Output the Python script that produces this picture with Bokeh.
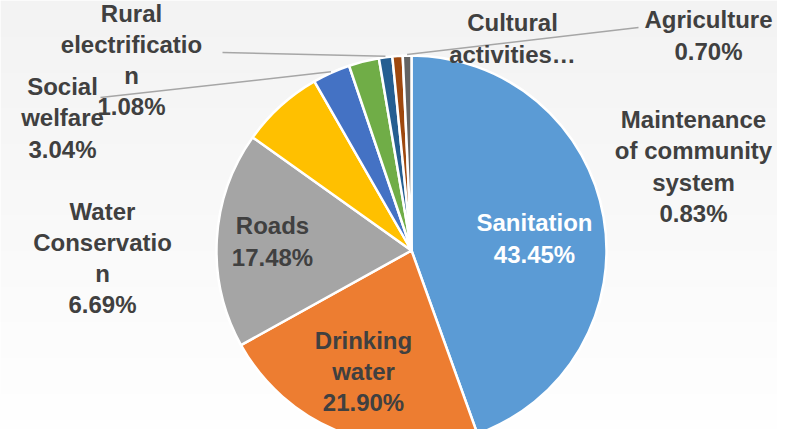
import numpy as np
import pandas as pd
from bokeh.plotting import figure
from bokeh.models import ColumnDataSource
from bokeh.core.properties import value
from bokeh.embed import file_html
from bokeh.resources import INLINE

# ---- data ----
categories = ["Sanitation", "Drinking water", "Roads", "Water Conservation",
              "Social welfare", "Cultural activities", "Rural electrification",
              "Maintenance of community system", "Agriculture"]
shares = [43.45, 21.90, 17.48, 6.69, 3.04, 2.45, 1.08, 0.83, 0.70]
label_names = ["Sanitation", "Drinking\nwater", "Roads", "Water\nConservatio\nn",
               "Social\nwelfare", "Cultural\nactivities\u2026", "Rural\nelectrificatio\nn",
               "Maintenance\nof community\nsystem", "Agriculture"]
show_pct = [True, True, True, True, True, False, True, True, True]
colors = ["#5B9BD5", "#ED7D31", "#A5A5A5", "#FFC000", "#4472C4",
          "#70AD47", "#255E91", "#9E480E", "#636363"]

# ---- layout (style) ----
W, H = 777, 429
CX, CY, R = 411, 179, 195
label_pos = [(534, 191), (363, 58), (272, 188), (102, 171.5), (62, 311.5),
             (512, 391), (131, 369.5), (693, 263), (708, 394)]
label_colors = ["white", "#404040", "#404040", "#404040", "#404040",
                "#404040", "#404040", "#404040", "#404040"]
leaders = {"Social welfare": (100, 332), "Rural electrification": (222, 377),
           "Agriculture": (638, 402)}

df = pd.DataFrame({"cat": categories, "v": shares, "color": colors})
total = df.v.sum()
cum_end = df.v.cumsum() / total
cum_start = cum_end - df.v / total
df["start"] = np.pi / 2 - 2 * np.pi * cum_start
df["end"] = np.pi / 2 - 2 * np.pi * cum_end
df["mid"] = (df.start + df.end) / 2
df["x"] = CX
df["y"] = CY

p = figure(width=W, height=H, x_range=(0, W), y_range=(0, H),
           output_backend="svg", toolbar_location=None, min_border=0,
           background_fill_color="white", border_fill_color="white")
p.axis.visible = False
p.grid.visible = False
p.outline_line_color = None

# background gradient
rows = H
g = np.linspace(255, 243, rows).astype(np.uint32)
img = np.empty((rows, 1), dtype=np.uint32)
img[:, 0] = (255 << 24) | (g << 16) | (g << 8) | g
p.image_rgba(image=[img], x=0, y=0, dw=W, dh=H)

p.wedge(x="x", y="y", radius=R, start_angle="start", end_angle="end",
        direction="clock", fill_color="color", line_color="white",
        line_width=2.5, source=ColumnDataSource(df))

# leader lines
for name, (lx, ly) in leaders.items():
    m = df.loc[df.cat == name, "mid"].iloc[0]
    ex = CX + (R + 1) * np.cos(m)
    ey = CY + (R + 1) * np.sin(m)
    p.line([lx, ex], [ly, ey], line_color="#A6A6A6", line_width=1.5)

texts = [n + (f"\n{v:.2f}%" if s else "") for n, v, s in zip(label_names, shares, show_pct)]
lsrc = ColumnDataSource(dict(x=[a for a, b in label_pos], y=[b for a, b in label_pos],
                             t=texts, c=label_colors))
p.text(x="x", y="y", text="t", text_color="c", source=lsrc,
       text_align="center", text_baseline="middle",
       text_font=value("Liberation Sans"), text_font_style="bold",
       text_font_size="24px", text_line_height=1.15)

open("out.html", "w").write(file_html(p, INLINE))
